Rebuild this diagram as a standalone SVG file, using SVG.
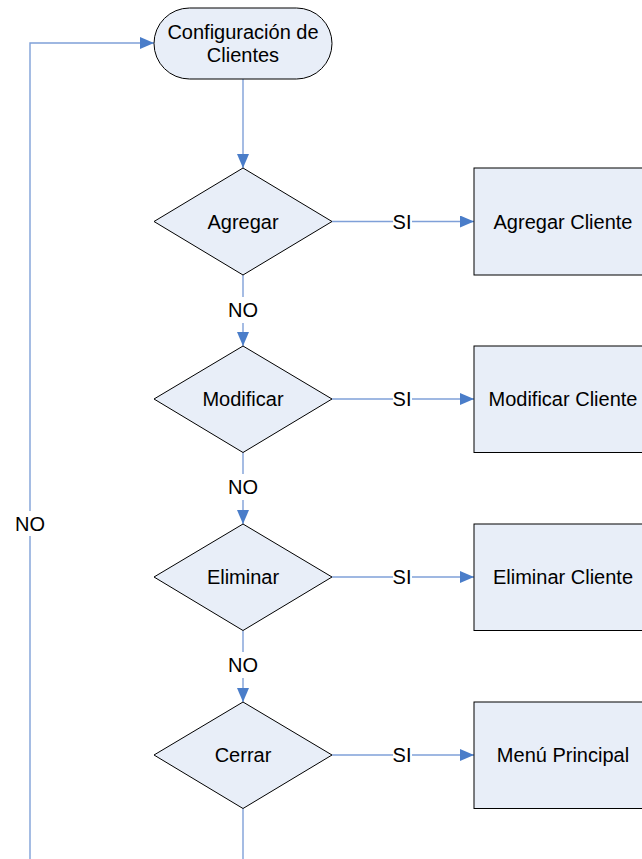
<svg xmlns="http://www.w3.org/2000/svg" width="642" height="859" viewBox="0 0 642 859">
  <style>
    .shape { fill: #E8EEF8; stroke: #000000; stroke-width: 1; }
    .conn { fill: none; stroke: #7FA0D8; stroke-width: 1.4; }
    .lbl { font-family: "Liberation Sans", Arial, sans-serif; font-size: 20px; fill: #000000; text-anchor: middle; }
    .bg { fill: #FFFFFF; stroke: none; }
  </style>
  <defs>
    <marker id="arrow" markerUnits="userSpaceOnUse" markerWidth="14" markerHeight="12" refX="14" refY="6" orient="auto">
      <path d="M0,0 L14,6 L0,12 Z" fill="#4A7DC9"/>
    </marker>
  </defs>
  <rect width="642" height="859" fill="#FFFFFF"/>

  <g id="connectors">
    <path class="conn" d="M243,79 V168" marker-end="url(#arrow)"/>
    <path class="conn" d="M243,275 V346" marker-end="url(#arrow)"/>
    <path class="conn" d="M243,452.5 V524" marker-end="url(#arrow)"/>
    <path class="conn" d="M243,630.5 V702" marker-end="url(#arrow)"/>
    <path class="conn" d="M243,808.5 V859"/>
    <path class="conn" d="M30,859 V43 H154" marker-end="url(#arrow)"/>
    <path class="conn" d="M332,221.5 H474" marker-end="url(#arrow)"/>
    <path class="conn" d="M332,399 H474" marker-end="url(#arrow)"/>
    <path class="conn" d="M332,577 H474" marker-end="url(#arrow)"/>
    <path class="conn" d="M332,755 H474" marker-end="url(#arrow)"/>
    <rect class="bg" x="227" y="297" width="32" height="26"/>
    <text class="lbl" x="243" y="316.5">NO</text>
    <rect class="bg" x="227" y="474" width="32" height="26"/>
    <text class="lbl" x="243" y="494">NO</text>
    <rect class="bg" x="227" y="652" width="32" height="26"/>
    <text class="lbl" x="243" y="672">NO</text>
    <rect class="bg" x="14" y="511" width="32" height="25"/>
    <text class="lbl" x="30" y="530.5">NO</text>
    <rect class="bg" x="393" y="210" width="19" height="24"/>
    <text class="lbl" x="402" y="228.5">SI</text>
    <rect class="bg" x="393" y="388" width="19" height="24"/>
    <text class="lbl" x="402" y="406">SI</text>
    <rect class="bg" x="393" y="566" width="19" height="24"/>
    <text class="lbl" x="402" y="584">SI</text>
    <rect class="bg" x="393" y="744" width="19" height="24"/>
    <text class="lbl" x="402" y="762">SI</text>
  </g>

  <g id="inicio">
    <rect class="shape" x="154" y="8" width="178" height="71" rx="35.5" ry="35.5"/>
    <text class="lbl" x="243" y="39">Configuración de</text>
    <text class="lbl" x="243" y="62">Clientes</text>
  </g>

  <g id="d-agregar">
    <polygon class="shape" points="243,168 332,221.5 243,275 154,221.5"/>
    <text class="lbl" x="243" y="228.5">Agregar</text>
  </g>
  <g id="p-agregar">
    <rect class="shape" x="474" y="168" width="178" height="107"/>
    <text class="lbl" x="563" y="228.5">Agregar Cliente</text>
  </g>

  <g id="d-modificar">
    <polygon class="shape" points="243,346 332,399 243,452.5 154,399"/>
    <text class="lbl" x="243" y="406">Modificar</text>
  </g>
  <g id="p-modificar">
    <rect class="shape" x="474" y="346" width="178" height="106.5"/>
    <text class="lbl" x="563" y="406">Modificar Cliente</text>
  </g>

  <g id="d-eliminar">
    <polygon class="shape" points="243,524 332,577 243,630.5 154,577"/>
    <text class="lbl" x="243" y="584">Eliminar</text>
  </g>
  <g id="p-eliminar">
    <rect class="shape" x="474" y="524" width="178" height="106.5"/>
    <text class="lbl" x="563" y="584">Eliminar Cliente</text>
  </g>

  <g id="d-cerrar">
    <polygon class="shape" points="243,702 332,755 243,808.5 154,755"/>
    <text class="lbl" x="243" y="762">Cerrar</text>
  </g>
  <g id="p-menu">
    <rect class="shape" x="474" y="702" width="178" height="106.5"/>
    <text class="lbl" x="563" y="762">Menú Principal</text>
  </g>
</svg>
